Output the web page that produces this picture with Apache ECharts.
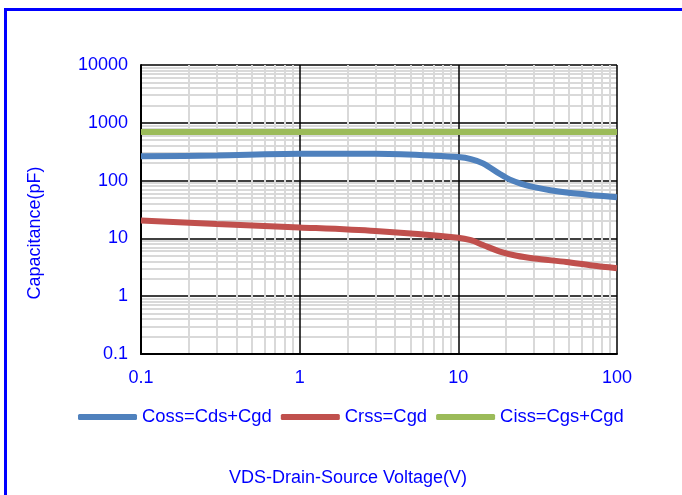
<!DOCTYPE html>
<html>
<head>
<meta charset="utf-8">
<script src="https://cdn.jsdelivr.net/npm/echarts@6/dist/echarts.min.js"></script>
<style>
html,body{margin:0;padding:0;background:#fff;}
#chart{width:682px;height:495px;}
</style>
</head>
<body>
<div id="chart"></div>
<script>
// Data
const seriesNames = ['Coss=Cds+Cgd', 'Crss=Cgd', 'Ciss=Cgs+Cgd'];
const cossVoltage = [0.1, 0.3, 1, 3, 7, 10, 12, 14.3, 18.3, 21, 25, 30, 38, 48, 70, 100];
const cossValues  = [263, 272, 290, 290, 270, 255, 235, 199, 130, 105, 88, 77, 68, 62, 56, 51.5];
const crssVoltage = [0.1, 0.3, 1, 3, 10, 12, 14.3, 18.3, 23.3, 30, 48, 70, 100];
const crssValues  = [20.5, 17.8, 15.5, 13.4, 10.3, 9.3, 7.7, 5.9, 5.0, 4.5, 3.9, 3.4, 3.05];
const cissVoltage = [0.1, 1, 10, 100];
const cissValues  = [692, 692, 692, 692];
const xTickLabels = ['0.1', '1', '10', '100'];
const yTickLabels = ['0.1', '1', '10', '100', '1000', '10000'];
const colors = ['#4F81BD', '#C0504D', '#9BBB59'];

function pairs(xs, ys) { return xs.map((x, i) => [x, ys[i]]); }

const font = '"Liberation Sans", Arial, sans-serif';
const blueText = '#0000FF';

const chart = echarts.init(document.getElementById('chart'), null, {renderer: 'canvas'});
const option = {
  animation: false,
  backgroundColor: '#ffffff',
  grid: {left: 141, right: 65, top: 65, bottom: 141, containLabel: false},
  legend: {
    left: 78, top: 408, padding: 0,
    itemWidth: 59, itemHeight: 6, itemGap: 9,
    icon: 'roundRect',
    textStyle: {color: blueText, fontSize: 18.4, fontFamily: font},
    data: seriesNames
  },
  xAxis: {
    type: 'log', logBase: 10, min: 0.1, max: 100,
    axisLine: {show: true, lineStyle: {color: '#000', width: 2}},
    axisTick: {show: false},
    axisLabel: {color: blueText, fontSize: 18, fontFamily: font, margin: 15,
      formatter: v => { const s = String(+v.toPrecision(6)); return xTickLabels.includes(s) ? s : ''; }},
    splitLine: {show: true, lineStyle: {color: '#000', width: 1.5}},
    minorTick: {show: false, splitNumber: 9},
    minorSplitLine: {show: true, lineStyle: {color: '#d9d9d9', width: 2}}
  },
  yAxis: {
    type: 'log', logBase: 10, min: 0.1, max: 10000,
    axisLine: {show: true, onZero: false, lineStyle: {color: '#000', width: 2}},
    axisTick: {show: false},
    axisLabel: {color: blueText, fontSize: 18, fontFamily: font, margin: 13,
      formatter: v => { const s = String(+v.toPrecision(6)); return yTickLabels.includes(s) ? s : ''; }},
    splitLine: {show: true, lineStyle: {color: '#000', width: 1.5}},
    minorTick: {show: false, splitNumber: 9},
    minorSplitLine: {show: true, lineStyle: {color: '#d9d9d9', width: 2}}
  },
  series: [
    {name: seriesNames[0], type: 'line', data: pairs(cossVoltage, cossValues), smooth: 0.3,
     showSymbol: false, symbol: 'none', z: 5, lineStyle: {color: colors[0], width: 6}, itemStyle: {color: colors[0]}},
    {name: seriesNames[1], type: 'line', data: pairs(crssVoltage, crssValues), smooth: 0.3,
     showSymbol: false, symbol: 'none', z: 5, lineStyle: {color: colors[1], width: 6}, itemStyle: {color: colors[1]}},
    {name: seriesNames[2], type: 'line', data: pairs(cissVoltage, cissValues),
     showSymbol: false, symbol: 'none', z: 5, lineStyle: {color: colors[2], width: 6}, itemStyle: {color: colors[2]}}
  ],
  graphic: [
    {type: 'rect', shape: {x: 4, y: 8, width: 678, height: 3}, style: {fill: '#0000FF'}, silent: true},
    {type: 'rect', shape: {x: 4, y: 8, width: 3, height: 487}, style: {fill: '#0000FF'}, silent: true},
    {type: 'text', x: 35, y: 233, rotation: Math.PI / 2,
     style: {text: 'Capacitance(pF)', fill: blueText, font: '18px ' + font, align: 'center', verticalAlign: 'middle'}},
    {type: 'text', x: 348, y: 478,
     style: {text: 'VDS-Drain-Source Voltage(V)', fill: blueText, font: '18px ' + font, align: 'center', verticalAlign: 'middle'}}
  ]
};
chart.setOption(option);
</script>
</body>
</html>
